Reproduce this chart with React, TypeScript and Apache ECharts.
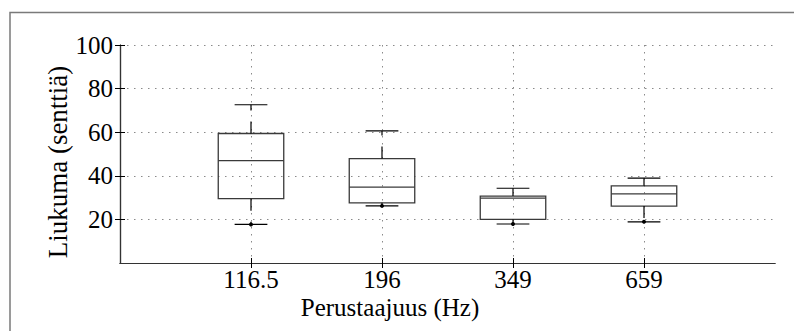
import React, { useEffect, useRef } from "react";
import * as echarts from "echarts";

const categories = ["116.5", "196", "349", "659"];
const lowWhisker = [17.7, 26.2, 17.9, 18.9];
const q1 = [29.5, 27.6, 20.0, 26.1];
const median = [47.0, 34.8, 29.8, 31.7];
const q3 = [59.4, 47.9, 30.7, 35.4];
const highWhisker = [72.6, 60.6, 34.3, 38.9];
const dotValues = [17.7, 26.2, 17.9, 18.9];
const yTicks = [20, 40, 60, 80, 100];
const categoryPositions = [1, 2, 3, 4];

const FONT = "'Liberation Serif', 'Times New Roman', serif";

export default function App() {
  const ref = useRef<HTMLDivElement>(null);
  useEffect(() => {
    if (!ref.current) return;
    const chart = echarts.init(ref.current, null, { renderer: "svg" });
    const data = categories.map((c, i) => [
      categoryPositions[i],
      lowWhisker[i],
      q1[i],
      median[i],
      q3[i],
      highWhisker[i],
      dotValues[i],
    ]);
    const gridDot = { type: [1.5, 5.5] as any, color: "#8a8a8a", width: 1 };
    const axisLineStyle = { color: "#333", width: 1.2 };
    const tickStyle = { color: "#000", width: 1 };
    const option: any = {
      animation: false,
      backgroundColor: "#fff",
      grid: { left: 120, right: 19, top: 45, bottom: 68 },
      xAxis: [
        {
          type: "value",
          min: 0,
          max: 5,
          interval: 1,
          position: "bottom",
          axisLine: { show: true, lineStyle: axisLineStyle },
          axisTick: { show: true, inside: true, length: 5, lineStyle: tickStyle, customValues: categoryPositions },
          axisLabel: {
            customValues: categoryPositions,
            formatter: (v: number) => (v >= 1 && v <= 4 ? categories[v - 1] : ""),
            fontSize: 25,
            lineHeight: 20,
            color: "#000",
            fontFamily: FONT,
            margin: 6,
          },
          splitLine: { show: true, lineStyle: gridDot },
        },
        {
          type: "value",
          min: 0,
          max: 5,
          interval: 1,
          position: "top",
          axisLine: { show: true, lineStyle: axisLineStyle },
          axisTick: { show: true, inside: true, length: 5, lineStyle: tickStyle, customValues: categoryPositions },
          axisLabel: { show: false },
          splitLine: { show: false },
        },
      ],
      yAxis: [
        {
          type: "value",
          min: 0,
          max: 100,
          interval: 20,
          position: "left",
          axisLine: { show: true, lineStyle: axisLineStyle },
          axisTick: { show: true, inside: true, length: 5, lineStyle: tickStyle, customValues: yTicks },
          axisLabel: {
            customValues: yTicks,
            formatter: (v: number) => (v === 0 ? "" : String(v)),
            fontSize: 25,
            lineHeight: 22,
            color: "#000",
            fontFamily: FONT,
            margin: 7,
          },
          splitLine: { show: true, lineStyle: gridDot },
        },
        {
          type: "value",
          min: 0,
          max: 100,
          interval: 20,
          position: "right",
          axisLine: { show: true, lineStyle: axisLineStyle },
          axisTick: { show: true, inside: true, length: 5, lineStyle: tickStyle, customValues: yTicks },
          axisLabel: { show: false },
          splitLine: { show: false },
        },
      ],
      graphic: [
        {
          type: "rect",
          shape: { x: 10, y: 12.5, width: 900, height: 500 },
          style: { fill: "none", stroke: "#7a7a7a", lineWidth: 1.5 },
          silent: true,
          z: -1,
        },
        {
          type: "text",
          x: 390,
          y: 307,
          style: {
            text: "Perustaajuus (Hz)",
            font: `25px ${FONT}`,
            lineHeight: 22,
            fill: "#000",
            textAlign: "center",
            textVerticalAlign: "middle",
          },
        },
        {
          type: "text",
          x: 58,
          y: 162,
          rotation: Math.PI / 2,
          style: {
            text: "Liukuma (senttiä)",
            font: `27px ${FONT}`,
            fill: "#000",
            textAlign: "center",
            textVerticalAlign: "middle",
          },
        },
      ],
      series: [
        {
          type: "custom",
          xAxisIndex: 0,
          yAxisIndex: 0,
          clip: false,
          data,
          renderItem: (params: any, api: any) => {
            const x = api.value(0);
            const pLow = api.coord([x, api.value(1)]);
            const pQ1 = api.coord([x, api.value(2)]);
            const pMed = api.coord([x, api.value(3)]);
            const pQ3 = api.coord([x, api.value(4)]);
            const pHigh = api.coord([x, api.value(5)]);
            const pDot = api.coord([x, api.value(6)]);
            const halfBox = api.size([0.25, 0])[0];
            const halfCap = api.size([0.125, 0])[0];
            const cx = pMed[0];
            const boxStyle = { stroke: "#3a3a3a", lineWidth: 1.3, fill: "none" };
            const whiskStyle = { stroke: "#000", lineWidth: 1.2, lineDash: [12, 11] };
            const capStyle = { stroke: "#000", lineWidth: 1.2 };
            return {
              type: "group",
              children: [
                {
                  type: "rect",
                  shape: { x: cx - halfBox, y: pQ3[1], width: halfBox * 2, height: pQ1[1] - pQ3[1] },
                  style: boxStyle,
                },
                {
                  type: "line",
                  shape: { x1: cx - halfBox, y1: pMed[1], x2: cx + halfBox, y2: pMed[1] },
                  style: boxStyle,
                },
                {
                  type: "line",
                  shape: { x1: cx, y1: pQ3[1], x2: cx, y2: pHigh[1] },
                  style: whiskStyle,
                },
                {
                  type: "line",
                  shape: { x1: cx, y1: pQ1[1], x2: cx, y2: pLow[1] },
                  style: whiskStyle,
                },
                {
                  type: "line",
                  shape: { x1: cx - halfCap, y1: pHigh[1], x2: cx + halfCap, y2: pHigh[1] },
                  style: capStyle,
                },
                {
                  type: "line",
                  shape: { x1: cx - halfCap, y1: pLow[1], x2: cx + halfCap, y2: pLow[1] },
                  style: capStyle,
                },
                {
                  type: "circle",
                  shape: { cx: pDot[0], cy: pDot[1], r: 2 },
                  style: { fill: "#000" },
                },
              ],
            };
          },
        },
      ],
    };
    chart.setOption(option);
    return () => chart.dispose();
  }, []);
  return (
    <div
      ref={ref}
      style={{ position: "absolute", left: 0, top: 0, width: 794, height: 331, background: "#fff" }}
    />
  );
}
